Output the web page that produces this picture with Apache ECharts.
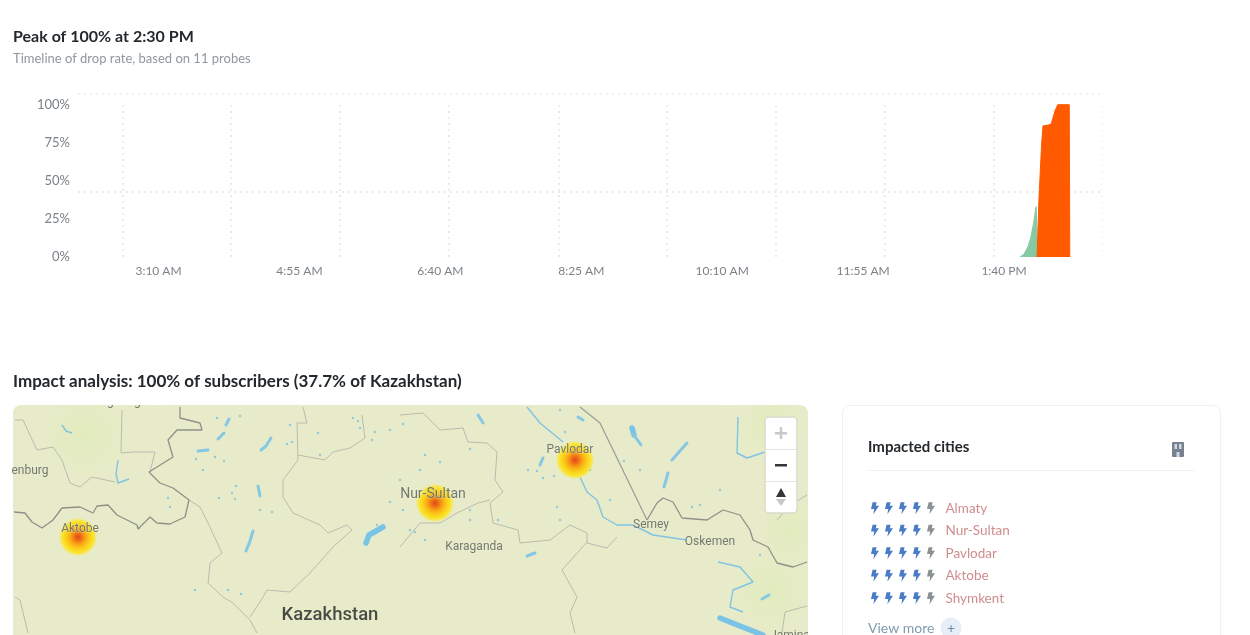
<!DOCTYPE html>
<html><head><meta charset="utf-8">
<style>html,body{margin:0;padding:0;background:#fff}#c{width:1250px;height:635px}</style>
<script src="https://cdn.jsdelivr.net/npm/echarts@6/dist/echarts.min.js"></script>
</head><body><div id="c"></div>
<script>
// ---- timeline data (x = minutes after midnight, y = drop rate %)
const xTickMinutes = [190, 295, 400, 505, 610, 715, 820];
const xTickLabels = ['3:10 AM','4:55 AM','6:40 AM','8:25 AM','10:10 AM','11:55 AM','1:40 PM'];
const yTicks = [0, 25, 50, 75, 100];
const gridMinutes = [163, 244, 325, 406.5, 488, 569, 650, 731, 812.5];
const faintGridMinutes = [893];
const midRate = [43];
const topRate = [107];
const greenSeries = [[832,0],[835,2],[838,7],[840,13],[842,22],[843.5,31],[844,33],[845,0]];
const orangeSeries = [[844.6,0],[846,38],[848,74],[849,86],[855,87],[856,88],[858,96],[860,100],[868.6,100],[869,0]];
// ---- impacted cities
const cityNames = ['Almaty','Nur-Sultan','Pavlodar','Aktobe','Shymkent'];
const cityRatings = [4, 4, 4, 4, 4];
const ratingMax = 5;
// ---- map features (map-plane coordinates)
const heatPoints = [[78,537],[435,503],[575,460]];
const placeLabels = [['Aktobe',80,529,12],['Nur-Sultan',433,494.5,14],['Pavlodar',570,450,12],['Karaganda',474,547,12],['Semey',651,525,12],['Oskemen',710,542,12],['enburg',30,471,12],['Magnitogorsk',127,402,12],['Barnaul',739,402,12],['Jamina',790,636,12]];
const mainBorder = [[14,512],[25,513],[32,522],[42,528],[53,520],[62,508],[80,507],[93,513],[97,506],[108,505],[117,515],[137,525],[138,529],[150,517],[157,523],[170,524],[185,517],[189,500],[173,488],[160,483],[149,472],[173,457],[168,440],[177,430],[202,430],[200,423],[180,418],[180,407]];
const eastBorder = [[647,520],[657,503],[663,498],[673,502],[682,518],[707,520],[723,510],[740,515],[750,530],[753,540],[768,547],[777,563],[793,567],[807,562]];
const thinBorders = [
 [[189,500],[200,507],[208,523],[222,553],[210,563],[208,583],[223,597],[233,603],[250,620],[257,633]],
 [[250,617],[263,597],[267,590],[290,592],[310,573],[333,547],[352,530],[347,525],[328,533],[320,525],[293,513],[283,497],[283,480],[298,460],[297,423],[307,423],[303,407]],
 [[298,455],[325,460],[333,452],[350,448],[365,438],[362,415]],
 [[15,420],[23,420],[37,450],[53,447],[62,460],[70,483],[80,487],[92,477],[115,482]],
 [[122,410],[121,453],[133,452],[155,452],[150,472]],
 [[15,597],[20,600],[28,633]],
 [[400,415],[423,413],[440,430],[463,428],[468,442],[487,443],[497,452],[495,480],[503,492],[490,503],[493,523],[518,530],[520,543],[550,540],[570,525],[587,533],[587,543],[607,548],[617,537]],
 [[587,542],[562,570],[577,597],[570,613],[575,633]],
 [[400,547],[420,523],[440,523],[457,513],[478,503],[490,500]],
 [[777,520],[790,505],[807,495]],
 [[782,633],[785,612],[807,606]]
];
const roadLine = [[580,407],[600,423],[647,520]];
const rivers = [
 [[527,407],[540,423],[563,442]],
 [[580,477],[587,492],[597,500],[603,517],[617,525],[633,525],[653,535],[687,540]],
 [[718,562],[740,567],[753,582],[733,590],[730,607],[743,612]],
 [[738,417],[737,453],[747,458],[765,452]],
 [[118,460],[116,474],[118,483],[129,479]],
 [[62,425],[66,431],[72,433]]
];
const bigLakes = [
 [[720,618],[740,626],[763,635]],[[632,428],[634,435]],[[366,543],[369,535],[376,531],[383,527]]
];
const smallLakes = [
 [[634,435],[641,445]],[[672,460],[679,452],[687,443]],[[664,487],[668,473]],[[527,556],[535,553]],[[478,415],[483,423]],
 [[261,450],[266,446],[271,438]],[[246,551],[250,541],[253,531]],[[258,486],[260,496]],[[226,425],[229,419]],
 [[218,439],[224,433]],[[198,451],[208,450]],[[540,465],[543,458]],[[578,417],[583,420]],[[762,599],[769,595]]
];
const lakeDots = [[170,507],[236,486],[232,493],[287,444],[292,442],[358,421],[360,428],[403,424],[390,502],[440,462],[537,471],[543,478],[554,476],[557,507],[528,470],[632,433],[692,507],[470,449],[425,455],[505,402],[470,520],[195,590],[228,590],[241,594],[410,530],[320,455],[139,528],[168,498],[219,498],[235,499],[275,400],[272,512],[260,510],[377,525],[403,510],[415,532],[425,540],[470,510],[498,520],[560,520],[590,470],[610,500],[624,461],[640,470],[400,480],[420,470],[390,430],[372,440],[353,418],[217,418],[240,416],[290,425],[318,433],[375,432],[196,459],[203,470],[215,457],[224,461],[560,410],[565,432],[700,505],[720,490],[760,555]];
const terrainBlobs = [[85,435,95],[770,425,70],[770,590,90],[790,530,70]];

const FONT = 'Lato';
const mapAxis = (g) => ({gridIndex:g,show:false,type:'value'});
const mapLine = (name,z,lineStyle) => (d,i) => ({type:'line',name:name+i,xAxisIndex:1,yAxisIndex:1,data:d,showSymbol:false,silent:true,z,lineStyle});

const option = {
 animation:false,
 backgroundColor:'#fff',
 textStyle:{fontFamily:FONT},
 title:[
  {text:'Peak of 100% at 2:30 PM',left:13,top:29,padding:0,textStyle:{fontFamily:FONT,fontSize:16,fontWeight:700,color:'#23282c'}},
  {text:'Timeline of drop rate, based on 11 probes',left:13,top:52,padding:0,textStyle:{fontFamily:FONT,fontSize:13,fontWeight:400,color:'#8f989e'}},
  {text:'Impact analysis: 100% of subscribers (37.7% of Kazakhstan)',left:13,top:373,padding:0,textStyle:{fontFamily:FONT,fontSize:17,fontWeight:700,color:'#23282c'}},
  {text:'Impacted cities',left:868,top:440,padding:0,z:20,textStyle:{fontFamily:FONT,fontSize:15,fontWeight:700,color:'#23282c'}}
 ],
 grid:[
  {left:78,top:94,width:1024,height:163},
  {left:13,top:405,width:795,height:230},
  {left:875,top:497,width:56,height:112.5}
 ],
 xAxis:[
  {type:'value',gridIndex:0,min:130,max:893,splitLine:{show:false},axisLine:{show:false},axisTick:{show:false},
   axisLabel:{customValues:xTickMinutes,color:'#7b8288',fontSize:12,margin:8,fontFamily:FONT,
    formatter:v=>xTickLabels[xTickMinutes.indexOf(v)]||''}},
  {...mapAxis(1),min:13,max:808},
  {...mapAxis(2),min:0,max:4}
 ],
 yAxis:[
  {type:'value',gridIndex:0,min:0,max:107,splitLine:{show:false},axisLine:{show:false},axisTick:{show:false},
   axisLabel:{customValues:yTicks,color:'#7b8288',fontSize:13,margin:8,padding:[3,0,0,0],fontFamily:FONT,formatter:'{value}%'}},
  {...mapAxis(1),min:405,max:635,inverse:true},
  {gridIndex:2,type:'category',show:false,inverse:true,data:cityNames}
 ],
 graphic:{elements:[
  {type:'rect',z:-10,shape:{x:13,y:405,width:795,height:240,r:8},style:{fill:'#e8ebca'}},
  {type:'rect',z:-10,shape:{x:842.5,y:405.5,width:378,height:240,r:7},style:{fill:'#fff',stroke:'#eef0f2',lineWidth:1}},
  {type:'rect',z:50,shape:{x:0,y:392,width:830,height:13},style:{fill:'#fff'}},
  {type:'rect',z:50,shape:{x:808,y:392,width:30,height:243},style:{fill:'#fff'}},
  {type:'rect',z:60,shape:{x:765,y:417,width:32,height:96,r:4},style:{fill:'#fff',stroke:'#d9dccb',lineWidth:1.5}},
  {type:'line',z:61,shape:{x1:765,y1:449.5,x2:797,y2:449.5},style:{stroke:'#e3e5dc',lineWidth:1}},
  {type:'line',z:61,shape:{x1:765,y1:481.5,x2:797,y2:481.5},style:{stroke:'#e3e5dc',lineWidth:1}},
  {type:'rect',z:61,shape:{x:775,y:432,width:12,height:2.5},style:{fill:'#c6c9cc'}},
  {type:'rect',z:61,shape:{x:779.7,y:427,width:2.5,height:12},style:{fill:'#c6c9cc'}},
  {type:'rect',z:61,shape:{x:775,y:464,width:12,height:2.5},style:{fill:'#33373a'}},
  {type:'polygon',z:61,shape:{points:[[781,488],[776,497],[786,497]]},style:{fill:'#33373a'}},
  {type:'polygon',z:61,shape:{points:[[781,506],[776,499],[786,499]]},style:{fill:'#c6c9cc'}},
  {type:'line',z:20,shape:{x1:868,y1:470.5,x2:1195,y2:470.5},style:{stroke:'#f0f1f3',lineWidth:1}},
  {type:'rect',z:20,shape:{x:1172,y:442,width:12,height:15,r:1},style:{fill:'#76828f'}},
  {type:'rect',z:21,shape:{x:1174.5,y:444,width:2.5,height:5},style:{fill:'#d5d9de'}},
  {type:'rect',z:21,shape:{x:1179,y:444,width:2.5,height:5},style:{fill:'#d5d9de'}},
  {type:'rect',z:21,shape:{x:1176.5,y:452,width:3,height:5},style:{fill:'#d5d9de'}},
  {type:'text',z:20,style:{x:868,y:628,text:'View more',fill:'#7e9bb0',font:'14px '+FONT,textVerticalAlign:'middle'}},
  {type:'circle',z:20,shape:{cx:951,cy:628,r:10.5},style:{fill:'#e7eef8'}},
  {type:'text',z:21,style:{x:951,y:628,text:'+',fill:'#6f8ca6',font:'14px '+FONT,textAlign:'center',textVerticalAlign:'middle'}}
 ]},
 series:[
  {type:'line',name:'green',xAxisIndex:0,yAxisIndex:0,data:greenSeries,showSymbol:false,silent:true,z:3,
   lineStyle:{color:'#86c9a2',width:1},itemStyle:{color:'#86c9a2'},areaStyle:{color:'#86c9a2',opacity:1},
   markLine:{silent:true,symbol:'none',label:{show:false},z:1,
    lineStyle:{color:'#e3e5e8',type:[2,4],width:1.5},
    data:[
     ...gridMinutes.map(t=>[{coord:[t,0]},{coord:[t,100]}]),
     ...faintGridMinutes.map(t=>[{coord:[t,0],lineStyle:{color:'#f4f5f6'}},{coord:[t,100]}]),
     ...midRate.map(r=>({yAxis:r})),
     ...topRate.map(r=>({yAxis:r,lineStyle:{color:'#eceef0'}}))
    ]}},
  {type:'line',name:'orange',xAxisIndex:0,yAxisIndex:0,data:orangeSeries,showSymbol:false,silent:true,z:4,
   lineStyle:{color:'#ff5a00',width:1},itemStyle:{color:'#ff5a00'},areaStyle:{color:'#ff5a00',opacity:1}},

  {type:'scatter',name:'terrain',xAxisIndex:1,yAxisIndex:1,silent:true,z:1,
   data:terrainBlobs.map(b=>({value:[b[0],b[1]],symbolSize:b[2]})),
   itemStyle:{opacity:1,color:{type:'radial',x:.5,y:.5,r:.5,colorStops:[{offset:0,color:'rgba(224,236,186,.8)'},{offset:1,color:'rgba(224,236,186,0)'}]}}},
  ...thinBorders.map(mapLine('b',4,{color:'#b9bcae',width:1})),
  {type:'line',name:'main',xAxisIndex:1,yAxisIndex:1,data:mainBorder,showSymbol:false,silent:true,z:5,lineStyle:{color:'#8f9188',width:1.3}},
  {type:'line',name:'east',xAxisIndex:1,yAxisIndex:1,data:eastBorder,showSymbol:false,silent:true,z:5,lineStyle:{color:'#8f9188',width:1.3}},
  {type:'line',name:'road',xAxisIndex:1,yAxisIndex:1,data:roadLine,showSymbol:false,silent:true,z:5,lineStyle:{color:'#9d9f9a',width:1.3}},
  ...rivers.map(mapLine('r',3,{color:'#7fc4e2',width:1.4})),
  ...bigLakes.map(mapLine('L',3,{color:'#79c3e6',width:5.5,cap:'round',join:'round'})),
  ...smallLakes.map(mapLine('s',3,{color:'#86c8e4',width:3,cap:'round',join:'round'})),
  {type:'scatter',name:'ponds',xAxisIndex:1,yAxisIndex:1,data:lakeDots,symbolSize:2.5,silent:true,z:3,itemStyle:{opacity:1,color:'#93cbd8'}},
  {type:'scatter',name:'impact',xAxisIndex:1,yAxisIndex:1,data:heatPoints,symbolSize:39,silent:true,z:8,
   itemStyle:{opacity:1,color:{type:'radial',x:.5,y:.5,r:.5,colorStops:[{offset:0,color:'#dc4a18'},{offset:.16,color:'#ee6a17'},{offset:.4,color:'#f9a915'},{offset:.62,color:'#fbd01a'},{offset:.82,color:'#f9e52f'},{offset:1,color:'rgba(248,232,80,0)'}]}}},
  {type:'scatter',name:'places',xAxisIndex:1,yAxisIndex:1,clip:false,silent:true,z:9,symbolSize:1,itemStyle:{color:'transparent'},
   data:placeLabels.map(p=>({value:[p[1],p[2]],name:p[0],label:{fontSize:p[3]}})),
   label:{show:true,position:'inside',formatter:'{b}',color:'#555a55',fontFamily:'Roboto',textBorderColor:'rgba(240,242,215,.6)',textBorderWidth:1}},
  {type:'scatter',name:'country',xAxisIndex:1,yAxisIndex:1,silent:true,z:9,symbolSize:1,itemStyle:{color:'transparent'},
   data:[{value:[330,615],name:'Kazakhstan'}],
   label:{show:true,position:'inside',formatter:'{b}',color:'#1f2321',fontFamily:'Roboto',fontSize:18.5,fontWeight:500}},

  {type:'scatter',name:'ratings',xAxisIndex:2,yAxisIndex:2,silent:true,z:10,clip:false,
   symbol:'path://M2 0 L7 0 L6 4 L10 4 L3 14 L4 8 L0 8 Z',symbolSize:[8,12],
   data:cityNames.flatMap((c,i)=>Array.from({length:ratingMax},(_,k)=>({value:[k,c],itemStyle:{opacity:1,color:k<cityRatings[i]?'#4a7cc6':'#8b9094'}})))},
  {type:'scatter',name:'cities',xAxisIndex:2,yAxisIndex:2,silent:true,z:10,clip:false,symbolSize:1,itemStyle:{color:'transparent'},
   data:cityNames.map(c=>({value:[4,c],name:c})),
   label:{show:true,position:'right',distance:14,formatter:'{b}',color:'#c2706f',fontFamily:FONT,fontSize:13.5}}
 ]
};
echarts.init(document.getElementById('c'),null,{renderer:'canvas'}).setOption(option);
</script></body></html>
